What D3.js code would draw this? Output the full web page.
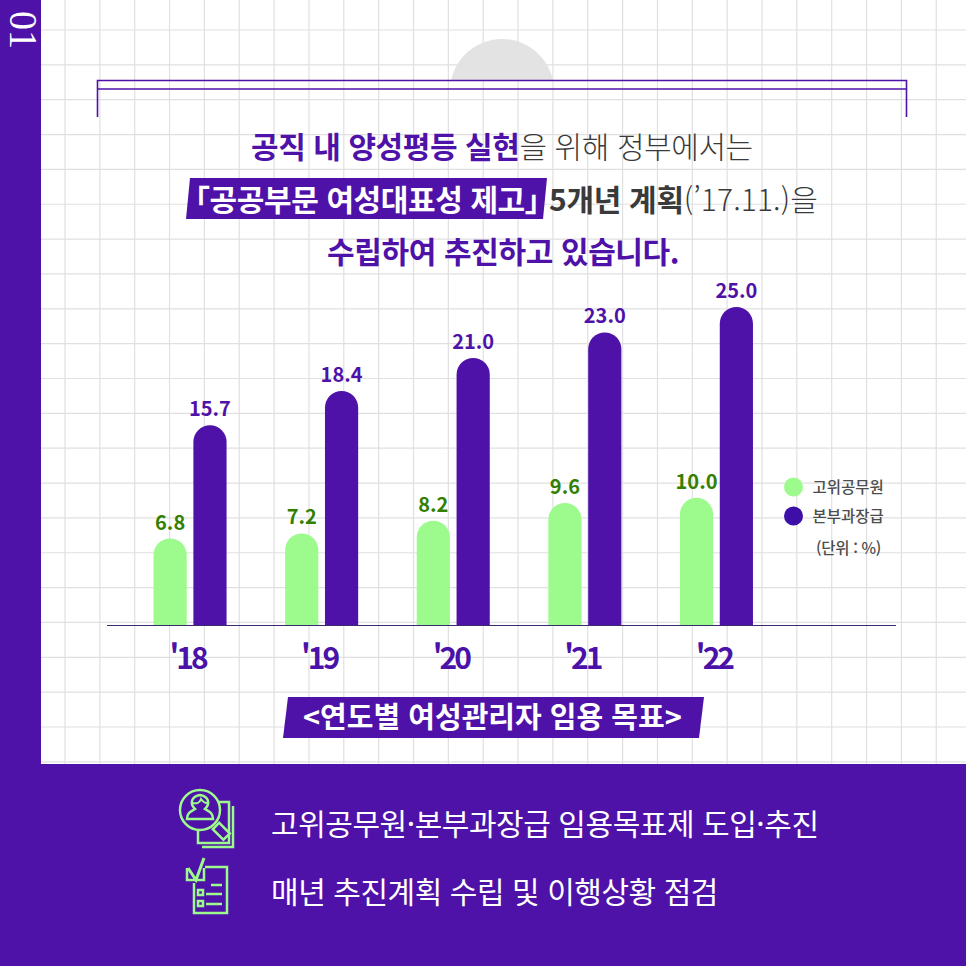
<!DOCTYPE html>
<html lang="ko">
<head>
    <meta charset="UTF-8">
    <title>연도별 여성관리자 임용 목표</title>
    <style>
        body, html {
            margin: 0;
            overflow: hidden;
            background: #fff;
        }
        text {
            font-family: "Noto Sans CJK KR", "Noto Sans", sans-serif;
        }
    </style>
</head>
<body>

<script src="https://d3js.org/d3.v7.min.js"></script>
<script>
    // Values
    const years = ["'18", "'19", "'20", "'21", "'22"];
    const seriesNames = ["고위공무원", "본부과장급"];
    const seniorValues = [6.8, 7.2, 8.2, 9.6, 10.0];
    const managerValues = [15.7, 18.4, 21.0, 23.0, 25.0];

    const purple = "#4f12a8";
    const green = "#9cfb8c";
    const greenText = "#338000";
    const legendColors = [green, "#3d0fa8"];
    const darkText = "#3a3a3a";

    const width = 966,
        height = 966;

    const svg = d3.select("body").append("svg")
        .attr("width", width)
        .attr("height", height)
        .attr("viewBox", [0, 0, width, height])
        .style("display", "block");

    // Background grid
    const grid = svg.append("g").attr("stroke", "#e0e0e0").attr("stroke-width", 1.2);
    d3.range(30, 765, 34.85).forEach(y => {
        grid.append("line").attr("x1", 41).attr("x2", width).attr("y1", y).attr("y2", y);
    });
    d3.range(65, width, 34.85).forEach(x => {
        grid.append("line").attr("x1", x).attr("x2", x).attr("y1", 0).attr("y2", 765);
    });

    // Side bar and bottom panel
    svg.append("rect").attr("x", 0).attr("y", 0).attr("width", 41).attr("height", height).attr("fill", purple);
    svg.append("rect").attr("x", 0).attr("y", 764).attr("width", width).attr("height", 202).attr("fill", purple);
    svg.append("text")
        .attr("transform", "translate(10,30) rotate(90)")
        .attr("text-anchor", "middle")
        .attr("textLength", 38)
        .attr("lengthAdjust", "spacingAndGlyphs")
        .style("font-family", "'Liberation Serif', serif")
        .style("font-size", "40px")
        .attr("fill", "#fff")
        .text("01");

    // Grey half circle behind the frame
    svg.append("clipPath").attr("id", "topClip")
        .append("rect").attr("x", 400).attr("y", 0).attr("width", 200).attr("height", 80);
    svg.append("circle")
        .attr("cx", 502).attr("cy", 91).attr("r", 52)
        .attr("fill", "#e3e3e3")
        .attr("clip-path", "url(#topClip)");

    // Frame at the top
    svg.append("path")
        .attr("d", "M97.5,117V80.5H906.5V117M97.5,89H906.5")
        .attr("fill", "none")
        .attr("stroke", purple)
        .attr("stroke-width", 1.6);

    // Heading
    svg.append("path").attr("d", "M190,178H547L543,219H186Z").attr("fill", purple);

    const heading = svg.append("g").attr("text-anchor", "start");

    const line1 = heading.append("text").attr("x", 251).attr("y", 158).style("font-size", "30px").style("letter-spacing", "-0.43px");
    line1.append("tspan").attr("fill", purple).attr("font-weight", 700).text("공직 내 양성평등 실현");
    line1.append("tspan").attr("fill", darkText).attr("font-weight", 300).text("을 위해 정부에서는");

    heading.append("text").attr("x", 180).attr("y", 211)
        .style("font-size", "30px").style("letter-spacing", "-0.4px")
        .attr("fill", "#fff").attr("font-weight", 700)
        .text("「공공부문 여성대표성 제고」");

    const line2b = heading.append("text").attr("x", 549).attr("y", 211).style("font-size", "30px");
    line2b.append("tspan").attr("fill", darkText).attr("font-weight", 700).style("letter-spacing", "-0.3px").text("5개년 계획");
    line2b.append("tspan").attr("fill", darkText).attr("font-weight", 300).style("letter-spacing", "0.1px").text("(’17.11.)을");

    heading.append("text").attr("x", 327).attr("y", 263)
        .style("font-size", "30px").style("letter-spacing", "-0.37px")
        .attr("fill", purple).attr("font-weight", 700)
        .text("수립하여 추진하고 있습니다.");

    // Scales
    const baseline = 625;
    const x = d3.scaleBand()
        .domain(years)
        .range([124.25, 782.25])
        .paddingInner(0.445)
        .paddingOuter(0.2225);
    const xSeries = d3.scaleBand()
        .domain(seriesNames)
        .range([0, x.bandwidth()])
        .paddingInner(0.167);
    const y = d3.scaleLinear()
        .domain([0, 25])
        .range([baseline, 307]);

    const rows = years.map((year, i) => ({
        year,
        values: [
            {name: seriesNames[0], value: seniorValues[i]},
            {name: seriesNames[1], value: managerValues[i]}
        ]
    }));

    // Bar with a fully rounded top
    function barPath(d) {
        const w = xSeries.bandwidth(),
            r = w / 2,
            top = y(d.value);
        return `M0,${baseline}V${top + r}A${r},${r} 0 0 1 ${w},${top + r}V${baseline}Z`;
    }

    const groups = svg.selectAll(".year")
        .data(rows)
        .enter().append("g")
        .attr("class", "year")
        .attr("transform", d => `translate(${x(d.year)},0)`);

    groups.selectAll("path")
        .data(d => d.values)
        .enter().append("path")
        .attr("transform", d => `translate(${xSeries(d.name)},0)`)
        .attr("fill", d => d.name === seriesNames[0] ? green : purple)
        .attr("d", barPath);

    groups.selectAll("text")
        .data(d => d.values)
        .enter().append("text")
        .attr("x", d => xSeries(d.name) + xSeries.bandwidth() / 2)
        .attr("y", d => y(d.value) - 9)
        .attr("text-anchor", "middle")
        .attr("font-weight", 700)
        .style("font-size", "20px")
        .attr("fill", d => d.name === seriesNames[0] ? greenText : purple)
        .text(d => d.value.toFixed(1));

    // Axis
    const axis = svg.append("g")
        .attr("transform", `translate(0,${baseline})`)
        .call(d3.axisBottom(x).tickSize(0).tickPadding(23));
    axis.select(".domain").remove();
    axis.selectAll("text")
        .attr("dx", -2.5)
        .style("font-family", "'Noto Sans CJK KR', sans-serif")
        .style("font-size", "30px")
        .style("font-weight", 700)
        .style("letter-spacing", "-3px")
        .attr("fill", "#4a12a8");
    svg.append("line")
        .attr("x1", 107).attr("x2", 896)
        .attr("y1", baseline + 0.5).attr("y2", baseline + 0.5)
        .attr("stroke", "#3a2a70")
        .attr("stroke-width", 1);

    // Legend
    const legend = svg.selectAll(".legend")
        .data(seriesNames)
        .enter().append("g")
        .attr("class", "legend")
        .attr("transform", (d, i) => `translate(793.5,${487 + i * 29})`);
    legend.append("circle")
        .attr("r", 9.5)
        .attr("fill", (d, i) => legendColors[i]);
    legend.append("text")
        .attr("x", 19)
        .attr("y", 5.5)
        .attr("font-weight", 500)
        .style("font-size", "15.5px")
        .attr("fill", "#4d4d4d")
        .text(d => d);
    svg.append("text")
        .attr("x", 816).attr("y", 554)
        .attr("font-weight", 500)
        .style("font-size", "15.5px")
        .style("letter-spacing", "-0.3px")
        .attr("fill", "#4d4d4d")
        .text("(단위 : %)");

    // Chart caption
    svg.append("path").attr("d", "M288,697H704L699,738H283Z").attr("fill", purple);
    svg.append("text")
        .attr("x", 303).attr("y", 728)
        .attr("font-weight", 700)
        .style("font-size", "29px")
        .style("letter-spacing", "0px")
        .attr("fill", "#fff")
        .text("<연도별 여성관리자 임용 목표>");

    // Bottom panel text
    svg.append("text")
        .attr("x", 271).attr("y", 835)
        .style("font-size", "30px")
        .style("letter-spacing", "-0.45px")
        .attr("font-weight", 400)
        .attr("fill", "#fff")
        .text("고위공무원·본부과장급 임용목표제 도입·추진");
    svg.append("text")
        .attr("x", 271).attr("y", 903)
        .style("font-size", "30px")
        .style("letter-spacing", "-0.45px")
        .attr("font-weight", 400)
        .attr("fill", "#fff")
        .text("매년 추진계획 수립 및 이행상황 점검");

    // Icons
    const icons = svg.append("g")
        .attr("fill", "none")
        .attr("stroke", green)
        .attr("stroke-width", 2.5);
    icons.append("path").attr("d", "M198,820V843H229V802H212");
    icons.append("path").attr("d", "M233,806V847H202");
    icons.append("rect")
        .attr("x", -4.5).attr("y", 0).attr("width", 9).attr("height", 15)
        .attr("transform", "translate(216,826) rotate(-45)")
        .attr("fill", purple);
    icons.append("circle").attr("cx", 200).attr("cy", 810).attr("r", 20).attr("fill", purple);
    icons.append("path").attr("d", "M187,819C187,812 192,811 195,809C189,803 192,796 200,795C208,796 211,803 205,809C208,811 213,812 213,819Z");
    icons.append("path").attr("d", "M193,803C197,804 200,802 201,799C203,802 205,803 207,803").attr("stroke-width", 2);
    icons.append("path").attr("d", "M187,868V880H204V868");
    icons.append("path").attr("d", "M188,868L196,880L204,858").attr("stroke-width", 3);
    icons.append("path").attr("d", "M205,867H227V913H194V883");
    icons.append("rect").attr("x", 198).attr("y", 890).attr("width", 5).attr("height", 5);
    icons.append("rect").attr("x", 198).attr("y", 901).attr("width", 5).attr("height", 5);
    icons.append("path").attr("d", "M211,885H222M206,894H222M206,904H222");
</script>

</body>
</html>
